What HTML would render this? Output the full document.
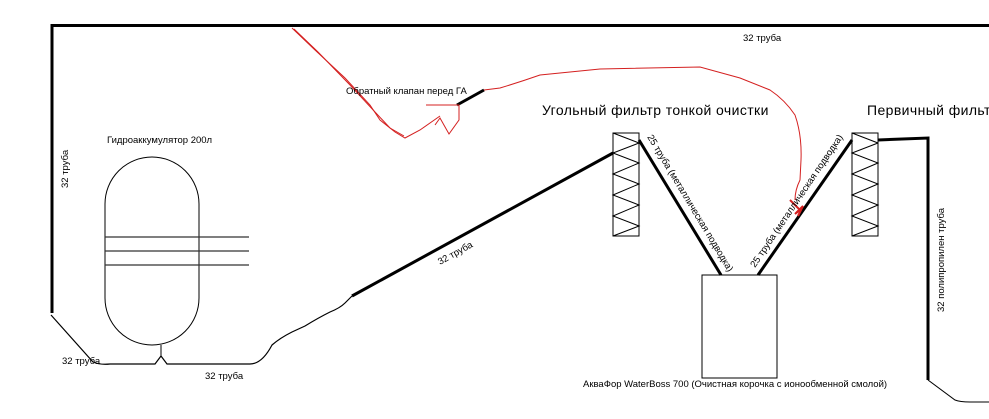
<!DOCTYPE html>
<html><head><meta charset="utf-8"><style>
html,body{margin:0;padding:0;background:#fff;}
svg{display:block;font-family:"Liberation Sans",sans-serif;}
</style></head><body>
<svg width="989" height="419" viewBox="0 0 989 419" xmlns="http://www.w3.org/2000/svg">
<g fill="none" stroke="#000">
<path d="M52 313 V25.5 H989" stroke-width="3"/>
<path d="M51 315 L93 362 Q100 365 110 364 H155 L158 360 L161 356 L164 360 L167 364 H250 Q262 364 272 345 Q280 338 292 332 L305 326 Q318 318 330 312 Q340 308 345 303 L352 296" stroke-width="1.2"/>
<path d="M161 345 V356" stroke-width="1"/>
<rect x="105" y="157" width="94" height="188" rx="47" ry="47" stroke-width="1"/>
<path d="M105 237 H249 M105 251 H249 M105 265 H249" stroke-width="1.2" stroke="#333"/>
<path d="M352 296 L613 153" stroke-width="3"/>
<rect x="613" y="133" width="26" height="103" stroke-width="1"/>
<path d="M639 143 L613 153 L639 163 L613 174 L639 184 L613 195 L639 205 L613 216 L639 226 L613 236 M613 133 L639 143" stroke-width="1"/>
<rect x="852" y="133" width="26" height="103" stroke-width="1"/>
<path d="M878 143 L852 153 L878 163 L852 174 L878 184 L852 195 L878 205 L852 216 L878 226 L852 236 M852 133 L878 143" stroke-width="1"/>
<path d="M639 140 L721 275" stroke-width="3"/>
<path d="M758 275 L852 140" stroke-width="3"/>
<rect x="702" y="275" width="75" height="103" stroke-width="1"/>
<path d="M878 140 L928 138 V380" stroke-width="3"/>
<path d="M928 380 L955 400 Q960 402 970 402 H989" stroke-width="1"/>
<path d="M457 105 L484 90" stroke-width="3"/>
</g>
<g fill="none" stroke="#d42020" stroke-width="1">
<path d="M292 28 L315 50 L345 78 L370 105 L380 120 L395 132 L405 138 L420 130 L440 116"/>
<path d="M294 29 L318 52 L350 85 L375 112 L390 128 L404 136"/>
<path d="M426 105 H459 V120 L449 134 L440 118 L435 125"/>
<path d="M484 90 L500 88 Q520 82 540 75 L600 69 L700 67 L740 78 L770 90 Q785 100 795 115 Q802 135 801 160 L800 180 Q795 190 795 200"/>
<path d="M790 200 L800 210 L795 214 L803 206 L798 216" stroke-width="2"/>
</g>
<g fill="#000" font-size="9.5">
<text x="743" y="41">32 труба</text>
<text x="346" y="94">Обратный клапан перед ГА</text>
<text x="107" y="143">Гидроаккумулятор 200л</text>
<text x="62" y="364">32 труба</text>
<text x="205" y="379">32 труба</text>
<text x="583" y="387">АкваФор WaterBoss 700 (Очистная корочка с ионообменной смолой)</text>
<text transform="translate(68,188) rotate(-90)">32 труба</text>
<text transform="translate(440,265) rotate(-29)">32 труба</text>
<text transform="translate(647,137) rotate(59)">25 труба (металлическая подводка)</text>
<text transform="translate(755,268) rotate(-56)">25 труба (металлическая подводка)</text>
<text transform="translate(944,312) rotate(-90)">32 полипропилен труба</text>
</g>
<g fill="#000" font-size="14" letter-spacing="0.4">
<text x="542" y="115">Угольный фильтр тонкой очистки</text>
<text x="867" y="115">Первичный фильтр</text>
</g>
</svg>
</body></html>
